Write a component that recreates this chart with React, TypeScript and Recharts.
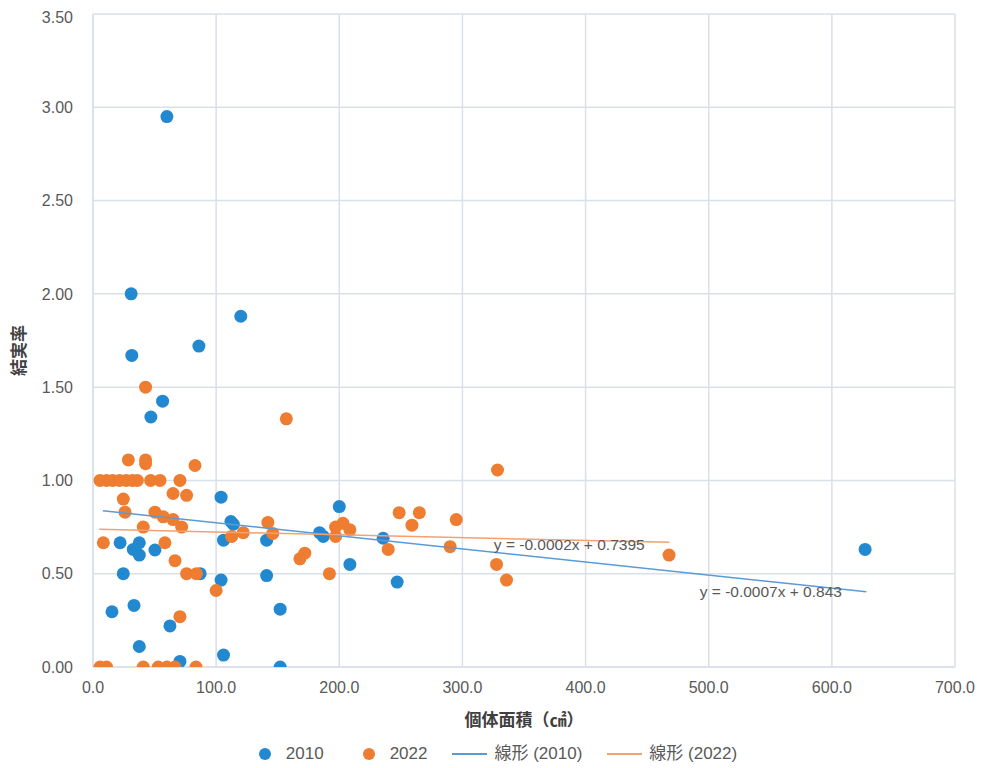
import {
  ScatterChart,
  Scatter,
  XAxis,
  YAxis,
  CartesianGrid,
  Legend,
  ReferenceDot,
} from 'recharts'

// 2010 survey: individual area (cm2) vs fruiting rate
const data2010 = [
  { x: 60, y: 2.95 }, { x: 31, y: 2.0 }, { x: 31.5, y: 1.67 }, { x: 86, y: 1.72 },
  { x: 120, y: 1.88 }, { x: 56.5, y: 1.425 }, { x: 47, y: 1.34 }, { x: 104, y: 0.91 },
  { x: 112, y: 0.78 }, { x: 114, y: 0.765 }, { x: 106, y: 0.68 }, { x: 141, y: 0.68 },
  { x: 22, y: 0.666 }, { x: 32.7, y: 0.63 }, { x: 37.6, y: 0.666 }, { x: 37.6, y: 0.6 },
  { x: 50.3, y: 0.627 }, { x: 24.6, y: 0.5 }, { x: 87, y: 0.5 }, { x: 104, y: 0.466 },
  { x: 141, y: 0.49 }, { x: 15.4, y: 0.296 }, { x: 33.3, y: 0.33 }, { x: 62.5, y: 0.22 },
  { x: 37.6, y: 0.11 }, { x: 70.6, y: 0.03 }, { x: 106, y: 0.064 }, { x: 152, y: 0.0 },
  { x: 152, y: 0.31 }, { x: 200, y: 0.86 }, { x: 184, y: 0.72 }, { x: 187, y: 0.7 },
  { x: 208.6, y: 0.55 }, { x: 235.6, y: 0.69 }, { x: 247, y: 0.455 }, { x: 627, y: 0.63 },
]

// 2022 survey
const data2022 = [
  { x: 42.7, y: 1.5 }, { x: 28.7, y: 1.11 }, { x: 42.7, y: 1.11 }, { x: 42.7, y: 1.09 },
  { x: 82.8, y: 1.08 }, { x: 157, y: 1.33 }, { x: 328.5, y: 1.056 },
  { x: 5.7, y: 1.0 }, { x: 11, y: 1.0 }, { x: 16, y: 1.0 }, { x: 21.6, y: 1.0 },
  { x: 27, y: 1.0 }, { x: 32, y: 1.0 }, { x: 36, y: 1.0 }, { x: 46.8, y: 1.0 },
  { x: 54.4, y: 1.0 }, { x: 70.6, y: 1.0 },
  { x: 65, y: 0.93 }, { x: 76, y: 0.92 }, { x: 24.6, y: 0.9 }, { x: 26, y: 0.83 },
  { x: 50.3, y: 0.83 }, { x: 57, y: 0.805 }, { x: 65, y: 0.79 }, { x: 40.8, y: 0.75 },
  { x: 72, y: 0.75 }, { x: 8.4, y: 0.666 }, { x: 58.4, y: 0.666 }, { x: 66.6, y: 0.57 },
  { x: 76, y: 0.5 }, { x: 84, y: 0.5 }, { x: 100, y: 0.41 }, { x: 70.6, y: 0.27 },
  { x: 5.7, y: 0 }, { x: 11, y: 0 }, { x: 40.8, y: 0 }, { x: 53, y: 0 },
  { x: 60, y: 0 }, { x: 66.5, y: 0 }, { x: 83.6, y: 0 },
  { x: 112.6, y: 0.7 }, { x: 122, y: 0.72 }, { x: 142, y: 0.775 }, { x: 146, y: 0.716 },
  { x: 172, y: 0.61 }, { x: 168, y: 0.58 }, { x: 192, y: 0.5 }, { x: 197, y: 0.75 },
  { x: 203, y: 0.77 }, { x: 208.6, y: 0.735 }, { x: 197, y: 0.7 }, { x: 239.7, y: 0.63 },
  { x: 248.6, y: 0.827 }, { x: 265, y: 0.827 }, { x: 259, y: 0.76 }, { x: 295, y: 0.79 },
  { x: 290, y: 0.645 }, { x: 327.7, y: 0.55 }, { x: 335.8, y: 0.466 }, { x: 467.8, y: 0.6 },
]

// linear trend endpoints as drawn
const trend2010 = [{ x: 8, y: 0.837 }, { x: 628, y: 0.403 }]
const trend2022 = [{ x: 5, y: 0.738 }, { x: 468, y: 0.668 }]

const xTicks = [0, 100, 200, 300, 400, 500, 600, 700]
const yTicks = [0, 0.5, 1, 1.5, 2, 2.5, 3, 3.5]

const BLUE = '#2289d0'
const ORANGE = '#ee7d31'
const BLUE_LINE = '#5b9bd5'
const ORANGE_LINE = '#f4a070'
const GRID = '#d9e0e9'
const TEXT = '#595959'
const FONT = '"Liberation Sans", "Noto Sans CJK JP", sans-serif'

const Dot = (color: string) => (props: any) => (
  <circle cx={props.cx} cy={props.cy} r={6.5} fill={color} />
)

const Empty = () => <g />

function YLabel({ viewBox }: any) {
  const x = viewBox.x + 11
  const y = viewBox.y + viewBox.height / 2 + 10
  return (
    <text
      x={x}
      y={y}
      transform={`rotate(-90 ${x} ${y})`}
      textAnchor="middle"
      dominantBaseline="central"
      fontSize={17}
      fontWeight="bold"
      fill="#404040"
      fontFamily={FONT}
    >
      結実率
    </text>
  )
}

function LegendContent() {
  const item = (mark: any, label: string, gap: number, ml: number) => (
    <div style={{ display: 'flex', alignItems: 'center', marginRight: gap }}>
      {mark}
      <span style={{ marginLeft: ml, whiteSpace: 'nowrap' }}>{label}</span>
    </div>
  )
  const dot = (c: string) => (
    <span style={{ width: 12, height: 12, borderRadius: 6, background: c, display: 'inline-block' }} />
  )
  const line = (c: string) => (
    <span style={{ width: 35, height: 2, background: c, display: 'inline-block' }} />
  )
  return (
    <div
      style={{
        display: 'flex',
        justifyContent: 'center',
        alignItems: 'center',
        fontFamily: FONT,
        fontSize: 17,
        lineHeight: '20px',
        color: TEXT,
        paddingLeft: 5,
      }}
    >
      {item(dot(BLUE), '2010', 39, 15)}
      {item(dot(ORANGE), '2022', 25, 15)}
      {item(line(BLUE_LINE), '線形 (2010)', 25, 7)}
      {item(line(ORANGE_LINE), '線形 (2022)', 0, 7)}
    </div>
  )
}

export default function App() {
  return (
    <ScatterChart
      width={975}
      height={760}
      margin={{ top: 6, right: 28, left: 0, bottom: 41 }}
      style={{ fontFamily: FONT }}
    >
      <CartesianGrid stroke={GRID} strokeWidth={1.5} />
      <XAxis
        type="number"
        dataKey="x"
        domain={[0, 700]}
        ticks={xTicks}
        tickFormatter={(v: number) => v.toFixed(1)}
        tick={{ fill: TEXT, fontSize: 16 }}
        tickLine={false}
        tickSize={0}
        tickMargin={15}
        axisLine={{ stroke: GRID, strokeWidth: 1.5 }}
        height={60}
        allowDataOverflow
        label={{
          value: '個体面積（㎠）',
          position: 'insideBottom',
          offset: 1,
          fontSize: 17,
          fontWeight: 'bold',
          fill: '#404040',
        }}
      />
      <YAxis
        type="number"
        dataKey="y"
        domain={[0, 3.5]}
        ticks={yTicks}
        tickFormatter={(v: number) => v.toFixed(2)}
        tick={{ fill: TEXT, fontSize: 16 }}
        tickLine={false}
        tickSize={0}
        tickMargin={20}
        axisLine={{ stroke: GRID, strokeWidth: 1.5 }}
        width={85}
        allowDataOverflow
        label={<YLabel />}
      />
      <Legend
        verticalAlign="middle"
        align="center"
        layout="horizontal"
        content={<LegendContent />}
        wrapperStyle={{ top: 736, left: 0, width: 975, height: 20 }}
      />
      <Scatter name="2010" data={data2010} fill={BLUE} shape={Dot(BLUE)} isAnimationActive={false} />
      <Scatter name="2022" data={data2022} fill={ORANGE} shape={Dot(ORANGE)} isAnimationActive={false} />
      <Scatter
        name="線形 (2010)"
        data={trend2010}
        line={{ stroke: BLUE_LINE, strokeWidth: 1.5 }}
        shape={Empty}
        legendType="none"
        isAnimationActive={false}
      />
      <Scatter
        name="線形 (2022)"
        data={trend2022}
        line={{ stroke: ORANGE_LINE, strokeWidth: 1.5 }}
        shape={Empty}
        legendType="none"
        isAnimationActive={false}
      />
      <ReferenceDot
        x={325.5}
        y={0.654}
        r={0}
        stroke="none"
        label={{ value: 'y = -0.0002x + 0.7395', position: 'right', offset: 0, fill: TEXT, fontSize: 15.5 }}
      />
      <ReferenceDot
        x={492.7}
        y={0.407}
        r={0}
        stroke="none"
        label={{ value: 'y = -0.0007x + 0.843', position: 'right', offset: 0, fill: TEXT, fontSize: 15.5 }}
      />
    </ScatterChart>
  )
}
